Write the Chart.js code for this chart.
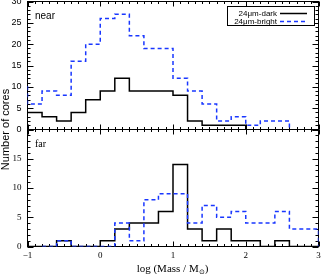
<!DOCTYPE html>
<html><head><meta charset="utf-8">
<script src="https://cdn.jsdelivr.net/npm/chart.js@4"></script>
<style>
html,body{margin:0;padding:0;background:#fff;}
#wrap{position:relative;width:322px;height:274px;overflow:hidden;background:#fff;}
canvas{position:absolute;left:0;top:0;}
#xtitle{position:absolute;left:172.5px;top:268px;transform:translate(-50%,-50%);font:11px "Liberation Serif","Times New Roman",serif;white-space:nowrap;color:#000;line-height:1;}
#xtitle span{font-size:7px;position:relative;top:2px;}
</style></head><body>
<div id="wrap">
<canvas id="cNear" width="322" height="274"></canvas>
<canvas id="cFar" width="322" height="274"></canvas>
<div id="xtitle">log (Mass / M<span>⊙</span>)</div>
</div>
<script>
// ---- data (bin left edges, values per bin) ----
const binEdges   = [-1.2,-1.0,-0.8,-0.6,-0.4,-0.2,0.0,0.2,0.4,0.6,0.8,1.0,1.2,1.4,1.6,1.8,2.0,2.2,2.4,2.6,2.8,3.0];
const nearDark   = [null,4,3,2,4,7,9,12,9,9,9,8,2,1,1,1,0,null,null,null,null];
const nearBright = [10,6,9,8,16,20,26,27,22,19,19,12,9,6,2,3,1,2,2,0,null];
const farDark    = [null,0,0,1,0,0,1,3,4,4,6,14,3,1,3,1,1,0,1,0,0];
const farBright  = [null,null,0,1,0,0,0,4,1,8,9,9,4,7,5,6,4,4,6,3,3];
const seriesLabels = ['24μm-dark','24μm-bright'];
const panelLabels  = ['near','far'];
const yTitle       = 'Number of cores';
const xTicks      = [-1,0,1,2,3];
const nearYTicks  = [0,5,10,15,20,25,30];
const farYTicks   = [0,5,10,15];

const SANS  = '"Liberation Sans", Arial, sans-serif';
const SERIF = '"Liberation Serif", "Times New Roman", serif';
const BLUE  = 'rgb(25,55,255)';
const DASH  = [4,3];

function toHist(vals){
  return binEdges.map((x,i)=>{
    if (i < vals.length) return {x:x, y:vals[i]};
    return {x:x, y:(vals[vals.length-1]==null?null:0)};
  });
}

function makeDatasets(dark, bright){
  return [
    {label:seriesLabels[0], data:toHist(dark), borderColor:'#000', borderWidth:1.5, stepped:true, pointRadius:0, fill:false, order:1},
    {label:seriesLabels[1], data:toHist(bright), borderColor:BLUE, borderWidth:1.5, borderDash:DASH, stepped:true, pointRadius:0, fill:false, order:0}
  ];
}

const framePlugin = {
  id:'frame',
  beforeDatasetsDraw(chart){
    const {ctx, chartArea:a, scales} = chart;
    const xs = scales.x, ys = scales.y;
    ctx.save();
    ctx.strokeStyle = '#000'; ctx.lineWidth = 1; ctx.setLineDash([]);
    ctx.strokeRect(a.left, a.top, a.right-a.left, a.bottom-a.top);
    ctx.beginPath();
    for (let i=0;i<=40;i++){
      const v = xs.min + i*0.1;
      const px = Math.round(xs.getPixelForValue(v)) + 0.5;
      const len = (i%10===0) ? 5 : 2.5;
      ctx.moveTo(px, a.bottom); ctx.lineTo(px, a.bottom-len);
      ctx.moveTo(px, a.top); ctx.lineTo(px, a.top+len);
    }
    for (let v=ys.min; v<=ys.max; v++){
      const py = Math.round(ys.getPixelForValue(v)) + 0.5;
      const len = (v%5===0) ? 6 : 3;
      ctx.moveTo(a.left, py); ctx.lineTo(a.left+len, py);
      ctx.moveTo(a.right, py); ctx.lineTo(a.right-len, py);
    }
    ctx.stroke();
    ctx.restore();
  },
  afterDraw(chart, args, opts){
    const {ctx, chartArea:a} = chart;
    ctx.save();
    ctx.fillStyle = '#000';
    ctx.font = '10px ' + opts.font;
    ctx.textAlign = 'left'; ctx.textBaseline = 'alphabetic';
    ctx.fillText(opts.label, a.left+7.5, a.top+opts.dy);
    if (opts.legend){
      const ds = chart.data.datasets;
      ctx.fillStyle = '#fff';
      ctx.fillRect(227.5, 6.5, 87, 19);
      ctx.strokeStyle = '#000'; ctx.lineWidth = 1;
      ctx.strokeRect(227.5, 6.5, 87, 19);
      ctx.font = '8px ' + SANS;
      ctx.textAlign = 'right'; ctx.textBaseline = 'middle';
      ctx.fillStyle = '#000';
      const rows = [13.5, 21.5];
      ds.forEach((d,i)=>{
        ctx.fillText(d.label, 277, rows[i]);
        ctx.beginPath();
        ctx.strokeStyle = d.borderColor; ctx.lineWidth = 1.5;
        ctx.setLineDash(d.borderDash || []);
        ctx.moveTo(280, rows[i]); ctx.lineTo(i===0?307:306, rows[i]);
        ctx.stroke();
      });
    }
    if (opts.ytitle){
      ctx.setLineDash([]);
      ctx.fillStyle = '#000';
      ctx.font = '11px ' + SANS;
      ctx.textAlign = 'center'; ctx.textBaseline = 'middle';
      ctx.translate(6, 129.5);
      ctx.rotate(-Math.PI/2);
      ctx.fillText(opts.ytitle, 0, 0);
    }
    ctx.restore();
  }
};

function yScale(max, ticks, font){
  return {
    type:'linear', min:0, max:max,
    afterBuildTicks: s => { s.ticks = ticks.map(v=>({value:v})); },
    afterFit: s => { s.width = 27; s.paddingTop = 0; s.paddingBottom = 0; },
    grid:{display:false, drawTicks:false}, border:{display:false},
    ticks:{color:'#000', padding:6, font:{family:font, size:9}}
  };
}

Chart.defaults.animation = false;

new Chart(document.getElementById('cNear'), {
  type:'line',
  data:{datasets: makeDatasets(nearDark, nearBright)},
  plugins:[framePlugin],
  options:{
    responsive:false, devicePixelRatio:1, animation:false,
    layout:{padding:{left:0.5, top:1.5, right:3.5, bottom:274-129.5}},
    plugins:{legend:{display:false}, tooltip:{enabled:false},
      frame:{label:panelLabels[0], font:SANS, dy:17.5, legend:true}},
    scales:{
      x:{type:'linear', min:-1, max:3, display:false},
      y:yScale(30, nearYTicks, SANS)
    }
  }
});

new Chart(document.getElementById('cFar'), {
  type:'line',
  data:{datasets: makeDatasets(farDark, farBright)},
  plugins:[framePlugin],
  options:{
    responsive:false, devicePixelRatio:1, animation:false,
    layout:{padding:{left:0.5, top:129.5, right:3.5, bottom:0}},
    plugins:{legend:{display:false}, tooltip:{enabled:false},
      frame:{label:panelLabels[1], font:SERIF, dy:17.5, legend:false, ytitle:yTitle}},
    scales:{
      x:{type:'linear', min:-1, max:3, position:'bottom',
        afterBuildTicks: s => { s.ticks = xTicks.map(v=>({value:v})); },
        afterFit: s => { s.height = 27.5; s.paddingLeft = 0; s.paddingRight = 0; },
        grid:{display:false, drawTicks:false}, border:{display:false},
        ticks:{color:'#000', padding:4, maxRotation:0, autoSkip:false, font:{family:SERIF, size:9},
          callback: v => String(v).replace('-', '\u2212')}
      },
      y:yScale(20, farYTicks, SERIF)
    }
  }
});
</script>
</body></html>
